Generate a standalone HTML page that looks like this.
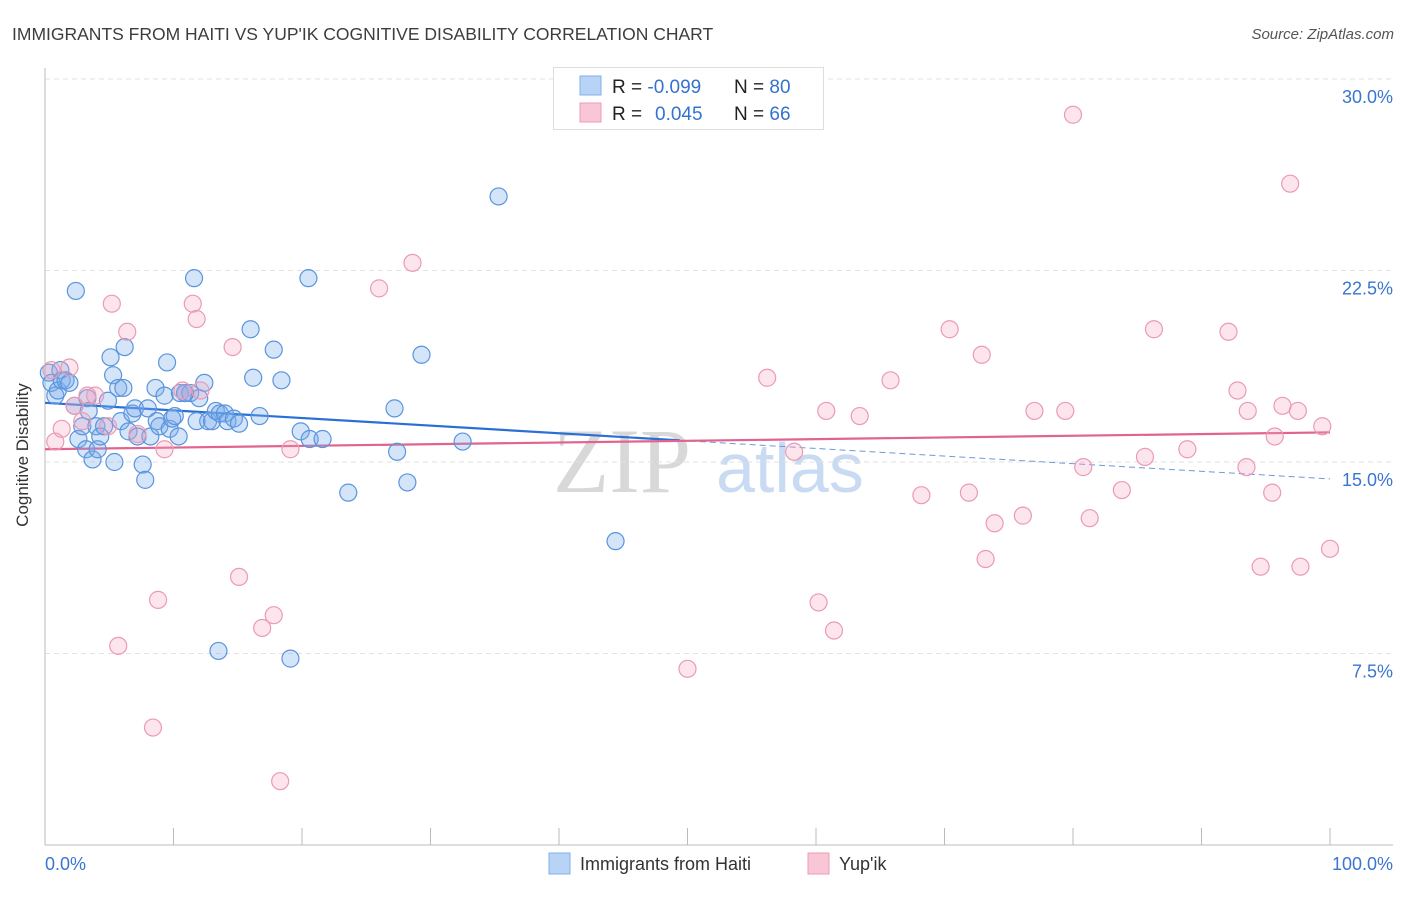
<!DOCTYPE html>
<html><head><meta charset="utf-8"><style>
body{margin:0;background:#fff;font-family:"Liberation Sans",sans-serif;}
</style></head><body>
<svg id="chart" width="1406" height="892" viewBox="0 0 1406 892" xmlns="http://www.w3.org/2000/svg" font-family="Liberation Sans, sans-serif">
<text x="12" y="40" font-size="17.5" fill="#3d3d3d">IMMIGRANTS FROM HAITI VS YUP'IK COGNITIVE DISABILITY CORRELATION CHART</text>
<text x="1394" y="39" font-size="15" fill="#555" font-style="italic" text-anchor="end">Source: ZipAtlas.com</text>
<g>
<text x="553" y="492" font-size="92" fill="#d8d8d8" font-family="Liberation Serif, serif">ZIP</text>
<text x="716" y="492" font-size="70" fill="#c9dbf2">atlas</text>
</g>
<g id="grid"></g>
<g id="axes"></g>
<g id="lines"></g>
<g id="pts"></g>
<text x="28" y="455" font-size="17" fill="#333" text-anchor="middle" transform="rotate(-90 28 455)">Cognitive Disability</text>
<g>
<rect x="553.5" y="67.5" width="270" height="62" fill="#fff" stroke="#ddd"/>
<rect x="580" y="76" width="21" height="19" fill="#b8d3f5" stroke="#7fb0ea"/>
<rect x="580" y="103" width="21" height="19" fill="#f9c6d6" stroke="#ef9ab6"/>
<text x="612" y="93" font-size="19" fill="#222">R = <tspan fill="#3472d0">-0.099</tspan></text>
<text x="734" y="93" font-size="19" fill="#222">N = <tspan fill="#3472d0">80</tspan></text>
<text x="612" y="120" font-size="19" fill="#222">R = <tspan fill="#3472d0" x="655">0.045</tspan></text>
<text x="734" y="120" font-size="19" fill="#222">N = <tspan fill="#3472d0">66</tspan></text>
</g>
<g>
<rect x="549" y="853" width="21" height="21" fill="#b8d3f5" stroke="#7fb0ea"/>
<text x="580" y="870" font-size="18" fill="#333">Immigrants from Haiti</text>
<rect x="808" y="853" width="21" height="21" fill="#f9c6d6" stroke="#ef9ab6"/>
<text x="839" y="870" font-size="18" fill="#333">Yup'ik</text>
</g>
</svg>
<script>
const yTicks=[7.5,15,22.5,30];
const yTickLabels=["7.5%","15.0%","22.5%","30.0%"];
const xTickLabels=["0.0%","100.0%"];
const haitiX=[0.3,0.5,0.8,1.0,1.2,1.3,1.6,1.9,2.3,2.4,2.6,2.9,3.2,3.3,3.4,3.7,4.0,4.1,4.3,4.6,4.9,5.1,5.3,5.4,5.7,5.9,6.1,6.2,6.5,6.8,7.0,7.2,7.6,7.8,8.0,8.2,8.6,8.7,8.9,9.3,9.5,9.7,9.9,10.1,10.4,10.5,10.9,11.3,11.6,11.8,12.0,12.4,12.7,13.0,13.3,13.6,14.0,14.2,14.7,15.1,16.0,16.2,16.7,17.8,18.4,19.1,19.9,20.5,20.6,21.6,23.6,27.2,27.4,28.2,29.3,32.5,35.3,44.4,13.5,10.9];
const haitiY=[18.5,18.1,17.6,17.8,18.6,18.2,18.2,18.1,17.2,21.7,15.9,16.4,15.5,17.5,17.0,15.1,16.4,15.5,16.0,16.4,17.4,19.1,18.4,15.0,17.9,16.6,17.9,19.5,16.2,16.9,17.1,16.0,14.9,14.3,17.1,16.0,17.9,16.6,16.4,17.6,18.9,16.3,16.7,16.8,16.0,17.7,17.7,17.7,22.2,16.6,17.5,18.1,16.6,16.6,17.0,16.9,16.9,16.6,16.7,16.5,20.2,18.3,16.8,19.4,18.2,7.3,16.2,22.2,15.9,15.9,13.8,17.1,15.4,14.2,19.2,15.8,25.4,11.9,7.6,17.7];
const yupikX=[0.5,0.8,1.3,1.9,2.3,2.9,3.3,3.9,4.9,5.2,5.7,6.4,7.2,8.4,8.8,9.3,10.7,11.5,11.8,14.6,15.1,16.9,17.8,18.3,19.1,26.0,28.6,50.0,56.2,58.3,59.9,60.2,60.8,61.4,63.4,65.8,68.2,70.4,71.9,72.9,73.2,73.9,76.1,77.0,79.4,80.0,80.8,81.3,83.8,85.6,86.3,88.9,92.1,92.8,93.5,93.6,94.6,95.5,95.7,96.3,96.9,97.5,97.7,99.4,100,12.1];
const yupikY=[18.6,15.8,16.3,18.7,17.2,16.6,17.6,17.6,16.4,21.2,7.8,20.1,16.1,4.6,9.6,15.5,17.8,21.2,20.6,19.5,10.5,8.5,9.0,2.5,15.5,21.8,22.8,6.9,18.3,15.4,29.1,9.5,17.0,8.4,16.8,18.2,13.7,20.2,13.8,19.2,11.2,12.6,12.9,17.0,17.0,28.6,14.8,12.8,13.9,15.2,20.2,15.5,20.1,17.8,14.8,17.0,10.9,13.8,16.0,17.2,25.9,17.0,10.9,16.4,11.6,17.8];
const NS="http://www.w3.org/2000/svg";
const L=45,R=1330,T=79,B=845;
function sx(v){return L+(R-L)*v/100;}
function sy(v){return T+(B-T)*(30-v)/30;}
function mk(tag,attrs,parent){const e=document.createElementNS(NS,tag);for(const k in attrs)e.setAttribute(k,attrs[k]);document.getElementById(parent).appendChild(e);return e;}
yTicks.forEach((t,i)=>{
 const g=mk('line',{x1:L,x2:1393,y1:sy(t),y2:sy(t),stroke:'#e2e2e2','stroke-dasharray':'5,4'},'grid');
 
 
 const tx=mk('text',{x:1393,y:sy(t)+24,'font-size':18,fill:'#3a75d0','text-anchor':'end'},'grid');
 tx.textContent=yTickLabels[i];
 
 
});
let a=mk('line',{x1:L,x2:L,y1:68,y2:B,stroke:'#bbb'},'axes');


a=mk('line',{x1:L,x2:1393,y1:B,y2:B,stroke:'#bbb'},'axes');


for(let k=0;k<=10;k++){
 const tk=mk('line',{x1:sx(k*10),x2:sx(k*10),y1:828,y2:B,stroke:'#bbb'},'axes');
 
 
}
let xl=mk('text',{x:45,y:870,'font-size':18,fill:'#3a75d0'},'axes');xl.textContent=xTickLabels[0];


xl=mk('text',{x:1393,y:870,'font-size':18,fill:'#3a75d0','text-anchor':'end'},'axes');xl.textContent=xTickLabels[1];


function reg(X,Y){const n=X.length;let mx=0,my=0;for(let i=0;i<n;i++){mx+=X[i];my+=Y[i];}mx/=n;my/=n;let sxy=0,sxx=0;for(let i=0;i<n;i++){sxy+=(X[i]-mx)*(Y[i]-my);sxx+=(X[i]-mx)**2;}const b=sxy/sxx;return [my-b*mx,b];}
function pts(X,Y,fill,stroke,name){X.forEach((x,i)=>{const c=mk('circle',{cx:sx(x),cy:sy(Y[i]),r:8.5,fill:fill,stroke:stroke,'stroke-width':1.2},'pts');
 
 });}
pts(haitiX,haitiY,'rgba(120,170,235,0.32)','#5a95dc','haiti-point');
pts(yupikX,yupikY,'rgba(245,160,190,0.28)','#eb9ab5','yupik-point');
const hb=reg(haitiX,haitiY),yb=reg(yupikX,yupikY);
const hmax=Math.max(...haitiX);
let ln=mk('line',{x1:sx(0),y1:sy(hb[0]),x2:sx(hmax+5),y2:sy(hb[0]+hb[1]*(hmax+5)),stroke:'#2a6fd6','stroke-width':2.2},'lines');


ln=mk('line',{x1:sx(hmax+5),y1:sy(hb[0]+hb[1]*(hmax+5)),x2:sx(100),y2:sy(hb[0]+hb[1]*100),stroke:'#6a9ad8','stroke-width':1,'stroke-dasharray':'6,4'},'lines');


ln=mk('line',{x1:sx(0),y1:sy(yb[0]),x2:sx(100),y2:sy(yb[0]+yb[1]*100),stroke:'#e0648e','stroke-width':2.2},'lines');


</script>
</body></html>
